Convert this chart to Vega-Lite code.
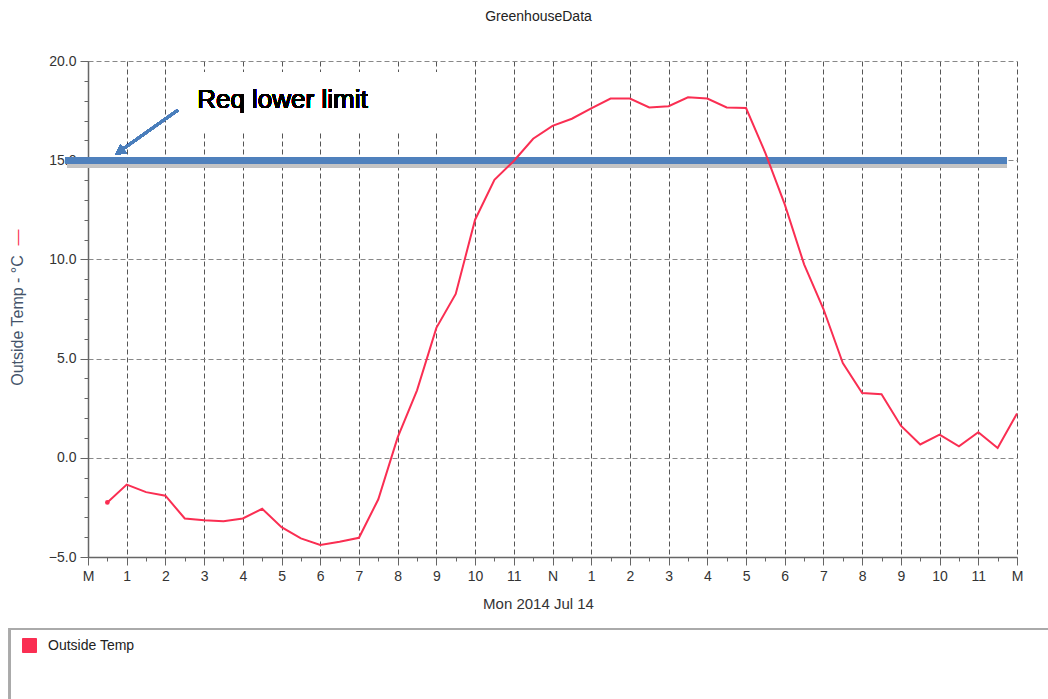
{
  "$schema": "https://vega.github.io/schema/vega-lite/v6.json",
  "width": 929,
  "height": 496,
  "autosize": "none",
  "padding": {"left": 88, "top": 61, "right": 31, "bottom": 142},
  "background": "white",
  "config": {"font": "Liberation Sans", "view": {"stroke": null}},
  "title": {"text": "GreenhouseData", "fontSize": 14, "fontWeight": "normal", "color": "#222", "font": "Liberation Sans", "dx": -14, "offset": 30},
  "datasets": {
    "temps": [
      {"hour": 0.5, "temp": -2.25}, {"hour": 1, "temp": -1.35}, {"hour": 1.5, "temp": -1.73}, {"hour": 2, "temp": -1.91},
      {"hour": 2.5, "temp": -3.06}, {"hour": 3, "temp": -3.15}, {"hour": 3.5, "temp": -3.2}, {"hour": 4, "temp": -3.06},
      {"hour": 4.5, "temp": -2.57}, {"hour": 5, "temp": -3.5}, {"hour": 5.5, "temp": -4.06}, {"hour": 6, "temp": -4.39},
      {"hour": 6.5, "temp": -4.23}, {"hour": 7, "temp": -4.03}, {"hour": 7.5, "temp": -2.09}, {"hour": 8, "temp": 1.03},
      {"hour": 8.5, "temp": 3.4}, {"hour": 9, "temp": 6.55}, {"hour": 9.5, "temp": 8.26}, {"hour": 10, "temp": 12.0},
      {"hour": 10.5, "temp": 14.01}, {"hour": 11, "temp": 14.96}, {"hour": 11.5, "temp": 16.08}, {"hour": 12, "temp": 16.73},
      {"hour": 12.5, "temp": 17.09}, {"hour": 13, "temp": 17.61}, {"hour": 13.5, "temp": 18.11}, {"hour": 14, "temp": 18.11},
      {"hour": 14.5, "temp": 17.66}, {"hour": 15, "temp": 17.72}, {"hour": 15.5, "temp": 18.17}, {"hour": 16, "temp": 18.11},
      {"hour": 16.5, "temp": 17.66}, {"hour": 17, "temp": 17.63}, {"hour": 17.5, "temp": 15.36}, {"hour": 18, "temp": 12.77},
      {"hour": 18.5, "temp": 9.75}, {"hour": 19, "temp": 7.5}, {"hour": 19.5, "temp": 4.77}, {"hour": 20, "temp": 3.27},
      {"hour": 20.5, "temp": 3.2}, {"hour": 21, "temp": 1.62}, {"hour": 21.5, "temp": 0.67}, {"hour": 22, "temp": 1.17},
      {"hour": 22.5, "temp": 0.58}, {"hour": 23, "temp": 1.29}, {"hour": 23.5, "temp": 0.49}, {"hour": 24, "temp": 2.23}
    ]
  },
  "data": {"name": "temps"},
  "layer": [
    {
      "mark": {"type": "rect", "fill": "white", "stroke": null},
      "encoding": {
        "x": {"datum": 2.33, "type": "quantitative", "scale": {"domain": [0, 24], "nice": false, "zero": false}, "axis": null},
        "x2": {"datum": 9.35},
        "y": {"datum": 19.45, "type": "quantitative", "scale": {"domain": [-5, 20], "nice": false, "zero": false}, "axis": null},
        "y2": {"datum": 16.37}
      }
    },
    {
      "mark": {"type": "rect", "fill": "transparent", "stroke": "#aaaaaa", "strokeWidth": 2},
      "encoding": {
        "x": {"datum": -2.02, "type": "quantitative", "scale": {"domain": [0, 24], "nice": false, "zero": false}, "axis": null},
        "x2": {"datum": 25.5},
        "y": {"datum": -8.63, "type": "quantitative", "scale": {"domain": [-5, 20], "nice": false, "zero": false}, "axis": null},
        "y2": {"datum": -13.5}
      }
    },
    {
      "mark": {"type": "rule", "color": "#c4c4c4", "opacity": 0.5, "strokeWidth": 7, "yOffset": 4, "xOffset": 2},
      "encoding": {
        "x": {"datum": -0.59, "type": "quantitative", "scale": {"domain": [0, 24], "nice": false, "zero": false},
          "axis": {"orient": "bottom", "values": [0.5,1.5,2.5,3.5,4.5,5.5,6.5,7.5,8.5,9.5,10.5,11.5,12.5,13.5,14.5,15.5,16.5,17.5,18.5,19.5,20.5,21.5,22.5,23.5],
            "labels": false, "domain": false, "grid": false, "tickSize": 4, "tickColor": "#666", "title": null}},
        "x2": {"datum": 23.74},
        "y": {"datum": 15, "type": "quantitative", "scale": {"domain": [-5, 20], "nice": false, "zero": false},
          "axis": {"orient": "left", "values": [-4,-3,-2,-1,1,2,3,4,6,7,8,9,11,12,13,14,16,17,18,19],
            "labels": false, "domain": false, "grid": false, "tickSize": 4, "tickColor": "#666",
            "title": "—", "titleColor": "#fa2e52", "titleFontSize": 16, "titleFontWeight": "normal", "titleAngle": 270,
            "titleX": -71, "titleY": 176, "titleBaseline": "middle", "titleAlign": "center"}}
      }
    },
    {
      "mark": {"type": "rule", "stroke": "#4f81bd", "strokeWidth": 6},
      "encoding": {
        "x": {"datum": -0.59, "type": "quantitative", "scale": {"domain": [0, 24], "nice": false, "zero": false}, "axis": null},
        "x2": {"datum": 23.74},
        "y": {"datum": 15, "type": "quantitative", "scale": {"domain": [-5, 20], "nice": false, "zero": false}, "axis": null}
      }
    },
    {
      "mark": {"type": "line", "strokeWidth": 2},
      "encoding": {
        "x": {"field": "hour", "type": "quantitative", "scale": {"domain": [0, 24], "nice": false, "zero": false},
          "axis": {"orient": "bottom", "values": [0,1,2,3,4,5,6,7,8,9,10,11,12,13,14,15,16,17,18,19,20,21,22,23,24],
            "labelExpr": "datum.value == 0 || datum.value == 24 ? 'M' : (datum.value == 12 ? 'N' : '' + (datum.value % 12))",
            "grid": true, "gridDash": [5, 3], "gridColor": "#555", "gridWidth": 1,
            "tickSize": 8, "tickColor": "#666", "domainColor": "#666", "domainWidth": 1.5,
            "labelFontSize": 14, "labelColor": "#333", "labelPadding": 4, "labelFlush": false, "labelOverlap": false,
            "title": "Mon 2014 Jul 14", "titleFontSize": 15, "titleFontWeight": "normal", "titleColor": "#333",
            "titleX": 450, "titleY": 46, "titleBaseline": "middle", "titleAlign": "center"}},
        "y": {"field": "temp", "type": "quantitative", "scale": {"domain": [-5, 20], "nice": false, "zero": false},
          "axis": {"orient": "left", "values": [-5, 0, 5, 10, 15, 20], "format": ".1f",
            "grid": true, "gridDash": [5, 3], "gridColor": "#888", "gridWidth": 1,
            "tickSize": 8, "tickColor": "#666", "domainColor": "#666", "domainWidth": 1.5,
            "labelFontSize": 14, "labelColor": "#333", "labelPadding": 4,
            "title": "Outside Temp - °C", "titleColor": "#44546a", "titleFontSize": 16, "titleFontWeight": "normal", "titleAngle": 270,
            "titleX": -71, "titleY": 259, "titleBaseline": "middle", "titleAlign": "center"}},
        "color": {"datum": "Outside Temp", "type": "nominal", "scale": {"range": ["#fa2e52"]},
          "legend": {"orient": "none", "legendX": -66, "legendY": 577, "title": null, "symbolType": "square", "symbolSize": 196,
            "labelFontSize": 14, "labelColor": "#222", "labelFont": "Liberation Sans", "labelOffset": 11, "padding": 0,
            "encode": {"symbols": {"update": {"fill": {"value": "#fa2e52"}, "stroke": {"value": "#9e1a30"}, "strokeWidth": {"value": 1}}}}}}
      }
    },
    {
      "transform": [{"filter": "datum.hour == 0.5"}],
      "mark": {"type": "point", "filled": true, "size": 22, "color": "#fa2e52", "opacity": 1},
      "encoding": {
        "x": {"field": "hour", "type": "quantitative", "scale": {"domain": [0, 24], "nice": false, "zero": false}, "axis": null},
        "y": {"field": "temp", "type": "quantitative", "scale": {"domain": [-5, 20], "nice": false, "zero": false}, "axis": null}
      }
    },
    {
      "mark": {"type": "rule", "stroke": "#4a7ebb", "strokeWidth": 2.5},
      "encoding": {
        "x": {"datum": 2.326, "type": "quantitative", "scale": {"domain": [0, 24], "nice": false, "zero": false}, "axis": null},
        "x2": {"datum": 0.83},
        "y": {"datum": 17.53, "type": "quantitative", "scale": {"domain": [-5, 20], "nice": false, "zero": false}, "axis": null},
        "y2": {"datum": 15.46}
      }
    },
    {
      "mark": {"type": "point", "shape": "triangle-up", "filled": true, "size": 130, "color": "#4a7ebb", "opacity": 1, "angle": 234.5},
      "encoding": {
        "x": {"datum": 0.817, "type": "quantitative", "scale": {"domain": [0, 24], "nice": false, "zero": false}, "axis": null},
        "y": {"datum": 15.43, "type": "quantitative", "scale": {"domain": [-5, 20], "nice": false, "zero": false}, "axis": null}
      }
    },
    {
      "mark": {"type": "text", "text": "Req lower limit", "fontSize": 26, "fontWeight": "normal", "font": "Liberation Sans", "fill": "#000", "stroke": null, "strokeWidth": 0, "align": "left", "baseline": "middle"},
      "encoding": {
        "x": {"datum": 2.82, "type": "quantitative", "scale": {"domain": [0, 24], "nice": false, "zero": false}, "axis": null},
        "y": {"datum": 18.03, "type": "quantitative", "scale": {"domain": [-5, 20], "nice": false, "zero": false}, "axis": null}
      }
    }
  ],
  "resolve": {"axis": {"x": "independent", "y": "independent"}}
}
